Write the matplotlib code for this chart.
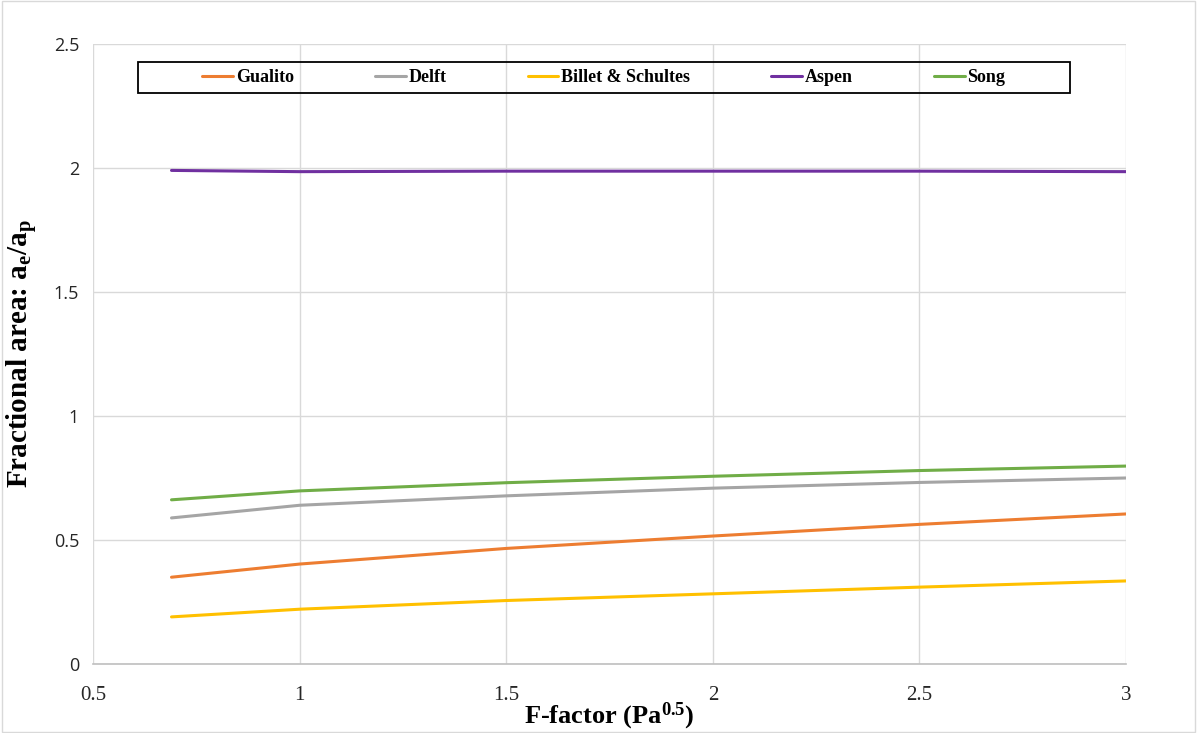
import matplotlib.pyplot as plt

# F-factor values (Pa^0.5)
f_factor = [0.69, 1.0, 1.5, 2.0, 2.5, 3.0]

gualito = [0.350, 0.403, 0.466, 0.516, 0.563, 0.605]
delft = [0.589, 0.640, 0.678, 0.709, 0.732, 0.750]
billet = [0.190, 0.221, 0.256, 0.283, 0.310, 0.335]
aspen = [1.990, 1.985, 1.987, 1.987, 1.987, 1.985]
song = [0.662, 0.698, 0.731, 0.757, 0.780, 0.798]

series = [
    ("Gualito", gualito, "#ED7D31"),
    ("Delft", delft, "#A5A5A5"),
    ("Billet & Schultes", billet, "#FFC000"),
    ("Aspen", aspen, "#7030A0"),
    ("Song", song, "#70AD47"),
]

plt.rcParams['mathtext.fontset'] = 'custom'
plt.rcParams['mathtext.rm'] = 'Liberation Serif:bold'
plt.rcParams['mathtext.it'] = 'Liberation Serif:bold'
plt.rcParams['mathtext.bf'] = 'Liberation Serif:bold'

fig = plt.figure(figsize=(11.97, 7.33), dpi=100)
ax = fig.add_axes([0.0777, 0.0941, 0.863, 0.846])

for name, vals, col in series:
    ax.plot(f_factor, vals, color=col, linewidth=2.2, label=name, solid_capstyle='round')

ax.set_xlim(0.5, 3)
ax.set_ylim(0, 2.5)
ax.set_xticks([0.5, 1, 1.5, 2, 2.5, 3])
ax.set_xticklabels(['0.5', '1', '1.5', '2', '2.5', '3'])
ax.set_yticks([0, 0.5, 1, 1.5, 2, 2.5])
ax.set_yticklabels(['0', '0.5', '1', '1.5', '2', '2.5'])
ax.grid(True, color='#D9D9D9', linewidth=1)
ax.set_axisbelow(True)
for s in ['top', 'right', 'left']:
    ax.spines[s].set_visible(False)
ax.spines['bottom'].set_color('#BFBFBF')
ax.spines['bottom'].set_linewidth(1.2)
ax.tick_params(axis='y', length=0, pad=10)
ax.tick_params(axis='x', length=0, pad=16)
for lab in ax.get_yticklabels():
    lab.set_fontfamily('Open Sans')
    lab.set_fontsize(13)
    lab.set_color('#262626')
for lab in ax.get_xticklabels():
    lab.set_fontfamily('Liberation Serif')
    lab.set_fontsize(15)
    lab.set_color('#262626')

ax.set_xlabel('F-factor (Pa$^{0.5}$)', fontfamily='Liberation Serif',
              fontweight='bold', fontsize=19, va='center')
ax.xaxis.set_label_coords(0.5, -0.085)
ax.set_ylabel('Fractional area: a$_{\\mathrm{e}}$/a$_{\\mathrm{p}}$', fontfamily='Liberation Serif',
              fontweight='bold', fontsize=21, labelpad=10)

# legend box (Excel style) with centred entries
ax.add_patch(plt.Rectangle((0.0436, 0.921), 0.902, 0.05, transform=ax.transAxes,
                           fill=False, edgecolor='black', linewidth=1.3, zorder=5))
leg = ax.legend(loc='center', bbox_to_anchor=(0.0436 + 0.451, 0.946),
                ncol=5, frameon=False,
                prop={'family': 'Liberation Serif', 'weight': 'bold', 'size': 13},
                handlelength=1.7, handletextpad=0.15, columnspacing=4.5, borderaxespad=0)

# outer chart border
fig.patches.append(plt.Rectangle((0.002, 0.002), 0.996, 0.996, transform=fig.transFigure,
                                 fill=False, edgecolor='#D9D9D9', linewidth=1))

fig.savefig('out.png', dpi=100)
